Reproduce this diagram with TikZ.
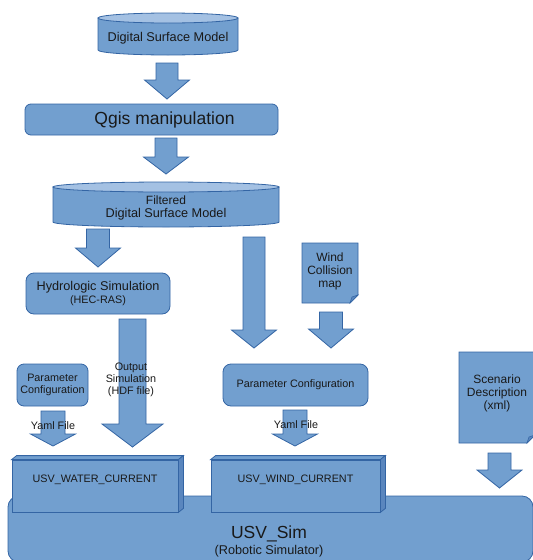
\documentclass[tikz,border=0pt]{standalone}
\usepackage{fontspec}
\setmainfont{Liberation Sans}
\usetikzlibrary{calc}
\definecolor{boxblue}{HTML}{729FCF}
\definecolor{edgeblue}{HTML}{3465A4}
\definecolor{capblue}{HTML}{A4C1E3}
\definecolor{sideblue}{HTML}{5A86BE}
\newcommand{\bigfont}{\fontsize{17.5}{20}\selectfont}
\newcommand{\midfont}{\fontsize{12.7}{13.5}\selectfont}
\newcommand{\notefont}{\fontsize{12}{13}\selectfont}
\newcommand{\smallfont}{\fontsize{10.8}{12}\selectfont}
% block arrow: tail, tip, shaft half width, head half width, head length
\newcommand{\blockarrow}[5]{%
  \draw[barrow] ($(#2|-#1)+(-#3,0)$) -- ($(#2)+(-#3,-#5)$) -- ($(#2)+(-#4,-#5)$) -- (#2)
    -- ($(#2)+(#4,-#5)$) -- ($(#2)+(#3,-#5)$) -- ($(#2|-#1)+(#3,0)$) -- cycle;}

\begin{document}
\begin{tikzpicture}[x=1pt,y=-1pt,
    box/.style={draw=edgeblue, fill=boxblue, line width=0.8pt, rounded corners=7pt,
      align=center, text=black!90, inner sep=0pt},
    front/.style={draw=edgeblue, fill=boxblue, line width=0.8pt, inner sep=0pt, text=black!90},
    lbl/.style={align=center, text=black!90, inner sep=0pt},
    barrow/.style={draw=edgeblue, fill=boxblue, line width=0.8pt, line join=miter},
    cyltop/.style={draw=edgeblue, fill=capblue, line width=0.8pt},
    fold/.style={draw=edgeblue, fill=sideblue, line width=0.6pt}]
  \useasboundingbox (0,0) rectangle (533,560);

  % simulator at the bottom
  \node[box, rounded corners=11pt, minimum width=525, minimum height=66] (sim) at (270.5,529) {};
  \node[lbl, font=\bigfont,
    label={[lbl, font=\midfont, yshift=-3pt]below:(Robotic Simulator)}] (simtxt) at (269,534) {USV\_Sim};

  % plugin boxes
  \node[front, minimum width=166, minimum height=52,
    label={[lbl, font=\smallfont, yshift=6pt]center:USV\_WATER\_CURRENT}] (water) at (95,486) {};
  \node[front, minimum width=169, minimum height=52,
    label={[lbl, font=\smallfont, yshift=6pt]center:USV\_WIND\_CURRENT}] (windpl) at (295.5,486) {};
  \foreach \b in {water, windpl} {
    \draw[barrow] (\b.north west) -- ++(5,-4) -- ($(\b.north east)+(5,-4)$) -- (\b.north east) -- cycle;
    \draw[barrow, fill=sideblue] (\b.north east) -- ++(5,-4) -- ($(\b.south east)+(5,-4)$) -- (\b.south east) -- cycle;
  }

  % digital surface model
  \draw[barrow] (98,18) -- (98,50) arc[start angle=180, end angle=360, x radius=70pt, y radius=5pt] -- (238,18) -- cycle;
  \draw[cyltop] (168,18) ellipse [x radius=70pt, y radius=5pt];
  \node[lbl, font=\midfont] (dsm) at (168,38) {Digital Surface Model};

  \node[box, rounded corners=6pt, minimum width=253, minimum height=31,
    label={[lbl, font=\bigfont, xshift=13pt]center:Qgis manipulation}] (qgis) at (151.5,119.5) {};

  % filtered model
  \draw[barrow] (53,187) -- (53,222) arc[start angle=180, end angle=360, x radius=113pt, y radius=5pt] -- (279,187) -- cycle;
  \draw[cyltop] (166,187) ellipse [x radius=113pt, y radius=5pt];
  \node[lbl, font=\midfont] (filt) at (166,208) {{\notefont Filtered}\\Digital Surface Model};

  \node[box, rounded corners=8pt, minimum width=144, minimum height=41, font=\midfont] (hydro) at (98,293.5)
    {Hydrologic Simulation\\{\smallfont (HEC-RAS)}};

  % wind collision map
  \draw[barrow] (302,243) -- (358,243) -- (358,295) -- (350,303) -- (302,303) -- cycle;
  \draw[fold] (358,295) -- (350,303) -- (352,297) -- cycle;
  \node[lbl, font=\notefont] (wcmap) at (330,271) {Wind\\Collision\\map};

  \node[box, minimum width=71, minimum height=42, font=\smallfont] (paramL) at (52.5,385) {Parameter\\Configuration};
  \node[box, rounded corners=8pt, minimum width=145, minimum height=42, font=\smallfont] (paramR) at (295.5,385) {Parameter Configuration};

  % scenario description
  \draw[barrow] (459,352) -- (535,352) -- (535,435) -- (527,443) -- (459,443) -- cycle;
  \draw[fold] (535,435) -- (527,443) -- (529,437) -- cycle;
  \node[lbl, font=\notefont] (scen) at (497,393) {Scenario\\Description\\(xml)};

  % arrows
  \coordinate (a1t) at (167,63);   \coordinate (a1h) at (167,99);
  \coordinate (a2t) at (166,138);  \coordinate (a2h) at (166,174);
  \coordinate (a3t) at (98,229);   \coordinate (a3h) at (98,267);
  \coordinate (a4t) at (254,237);  \coordinate (a4h) at (254,348);
  \coordinate (a5t) at (331,312);  \coordinate (a5h) at (331,348);
  \coordinate (a6t) at (132.5,319); \coordinate (a6h) at (132.5,447);
  \coordinate (a7t) at (53,411);   \coordinate (a7h) at (53,446);
  \coordinate (a8t) at (295,410);  \coordinate (a8h) at (295,446);
  \coordinate (a9t) at (499.5,453); \coordinate (a9h) at (499.5,488);
  \blockarrow{a1t}{a1h}{11}{22.5}{19}
  \blockarrow{a2t}{a2h}{11}{22.5}{17}
  \blockarrow{a3t}{a3h}{11.5}{22.5}{19}
  \blockarrow{a4t}{a4h}{11}{22.5}{18}
  \blockarrow{a5t}{a5h}{11.5}{22.5}{19}
  \blockarrow{a6t}{a6h}{13.5}{30.5}{23}
  \blockarrow{a7t}{a7h}{12}{22.5}{12}
  \blockarrow{a8t}{a8h}{12}{22.5}{12}
  \blockarrow{a9t}{a9h}{11.5}{22.5}{18}

  \node[lbl, font=\smallfont] (outsim) at (131,380) {Output\\Simulation\\(HDF file)};
  \node[lbl, font=\smallfont] (yamlL) at (53,426) {Yaml File};
  \node[lbl, font=\smallfont] (yamlR) at (296,425) {Yaml File};
\end{tikzpicture}
\end{document}
